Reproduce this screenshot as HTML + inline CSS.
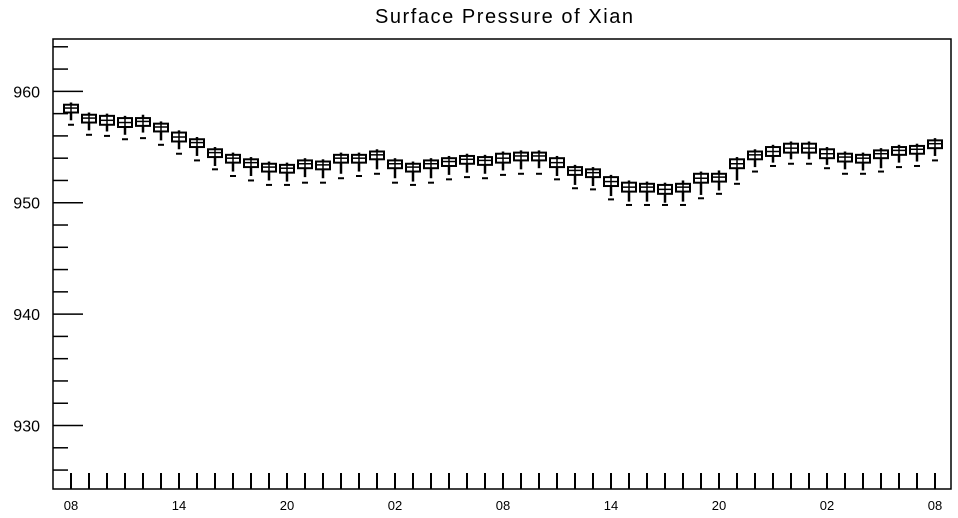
<!DOCTYPE html>
<html><head><meta charset="utf-8"><style>
body{margin:0;background:#fff;}
svg{display:block;font-family:"Liberation Sans",Arial,sans-serif;}
</style></head><body>
<svg id="chart" width="958" height="518" viewBox="0 0 958 518" xmlns="http://www.w3.org/2000/svg">
<text x="504" y="23" font-size="20" text-anchor="middle" textLength="258">Surface Pressure of Xian</text>
<rect x="53" y="39" width="898" height="450" fill="none" stroke="#000" stroke-width="1.5"/>
<g id="axes"></g>
<g id="boxes"></g>
</svg>
<script>
const xLabels=["08","14","20","02","08","14","20","02","08"];
const yTicks=[930,940,950,960];
const medians=[958.5,957.6,957.4,957.2,957.3,956.8,955.9,955.4,954.5,954.0,953.6,953.2,953.1,953.5,953.4,954.0,954.0,954.3,953.5,953.2,953.5,953.7,953.9,953.8,954.0,954.2,954.2,953.6,952.9,952.7,951.9,951.4,951.4,951.2,951.4,952.2,952.3,953.5,954.3,954.6,954.9,954.9,954.4,954.1,954.0,954.4,954.7,954.8,955.3];
const q3s=[958.8,957.9,957.8,957.6,957.6,957.1,956.3,955.7,954.8,954.3,953.9,953.5,953.4,953.8,953.7,954.3,954.3,954.6,953.8,953.5,953.8,954.0,954.2,954.1,954.4,954.5,954.5,954.0,953.2,953.0,952.3,951.8,951.7,951.6,951.7,952.6,952.6,953.9,954.6,955.0,955.3,955.3,954.8,954.4,954.3,954.7,955.0,955.1,955.6];
const q1s=[958.1,957.2,957.0,956.8,956.9,956.4,955.5,955.0,954.1,953.6,953.2,952.8,952.7,953.1,953.0,953.6,953.6,953.9,953.1,952.8,953.1,953.3,953.5,953.4,953.6,953.8,953.8,953.2,952.5,952.3,951.5,951.0,951.0,950.8,951.0,951.8,951.9,953.1,953.9,954.2,954.5,954.5,954.0,953.7,953.6,954.0,954.3,954.4,954.9];
const highs=[959.0,958.1,958.0,957.8,957.9,957.3,956.5,955.9,955.0,954.5,954.1,953.7,953.6,954.0,953.9,954.5,954.5,954.8,954.0,953.7,954.0,954.2,954.4,954.3,954.6,954.7,954.7,954.2,953.4,953.2,952.5,952.0,951.9,951.8,952.0,952.8,952.9,954.1,954.8,955.2,955.5,955.5,955.0,954.6,954.5,954.9,955.2,955.3,955.8];
const lows=[957.4,956.5,956.4,956.1,956.3,955.6,954.8,954.2,953.3,952.8,952.4,952.0,951.9,952.3,952.2,952.6,952.8,953.0,952.2,951.9,952.2,952.5,952.7,952.6,952.9,953.0,953.1,952.4,951.6,951.5,950.6,950.1,950.1,950.0,950.1,950.7,951.1,952.0,953.2,953.6,953.9,953.9,953.4,953.0,952.9,953.1,953.6,953.7,954.2];
const outliers=[957.0,956.1,956.0,955.7,955.8,955.2,954.4,953.8,953.0,952.4,952.0,951.6,951.6,951.8,951.8,952.2,952.4,952.6,951.8,951.6,951.8,952.1,952.3,952.2,952.5,952.6,952.6,952.1,951.3,951.2,950.3,949.8,949.8,949.8,949.8,950.4,950.8,951.7,952.8,953.3,953.5,953.5,953.1,952.6,952.6,952.8,953.2,953.3,953.8];
(function(){
const NS="http://www.w3.org/2000/svg";
const yMin=924.3,yMax=964.7,yTop=39,yBot=489;
function y(v){return yBot-(v-yMin)/(yMax-yMin)*(yBot-yTop);}
function x(i){return 71+i*18;}
function mk(tag,attrs,parent){const e=document.createElementNS(NS,tag);for(const k in attrs)e.setAttribute(k,attrs[k]);parent.appendChild(e);return e;}
const axes=document.getElementById('axes'),boxes=document.getElementById('boxes');
for(let v=926;v<=964;v+=2){
  const major=v%10===0;
  const t=mk('line',{x1:53,x2:major?83:68,y1:y(v),y2:y(v),stroke:'#000','stroke-width':1.5},axes);
  
  
}
yTicks.forEach(v=>{
  const t=mk('text',{x:40,y:y(v)+6,'font-size':16,'text-anchor':'end'},axes);
  t.textContent=v;
  
  
});
for(let i=0;i<medians.length;i++){
  const t=mk('line',{x1:x(i),x2:x(i),y1:yBot,y2:yBot-16,stroke:'#000','stroke-width':2},axes);
  
  
}
xLabels.forEach((l,k)=>{
  const t=mk('text',{x:x(k*6),y:510,'font-size':13,'text-anchor':'middle'},axes);
  t.textContent=l;
  
  
});
medians.forEach((m,i)=>{
  const g=mk('g',{},boxes);
  
  
  const cx=x(i);
  mk('line',{x1:cx,x2:cx,y1:y(highs[i]),y2:y(q3s[i]),stroke:'#000','stroke-width':2.5},g);
  mk('line',{x1:cx,x2:cx,y1:y(q1s[i]),y2:y(lows[i]),stroke:'#000','stroke-width':2.5},g);
  mk('rect',{x:cx-7,y:y(q3s[i]),width:14,height:y(q1s[i])-y(q3s[i]),fill:'#fff',stroke:'#000','stroke-width':2},g);
  mk('line',{x1:cx-7,x2:cx+7,y1:y(m),y2:y(m),stroke:'#000','stroke-width':1.5},g);
  mk('line',{x1:cx,x2:cx,y1:y(q3s[i]),y2:y(q1s[i]),stroke:'#000','stroke-width':1.5},g);
  mk('line',{x1:cx-3,x2:cx+3,y1:y(outliers[i]),y2:y(outliers[i]),stroke:'#000','stroke-width':2},g);
});
})();
</script>
</body></html>
